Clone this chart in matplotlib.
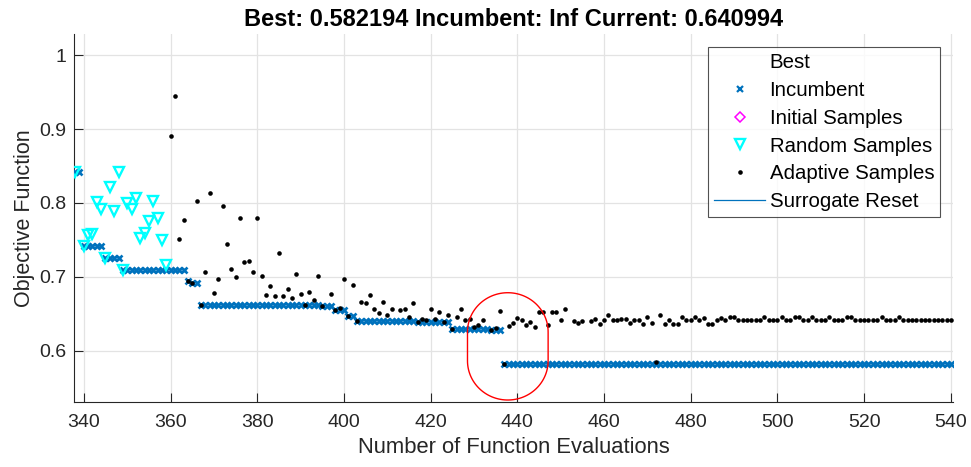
import numpy as np
import matplotlib
matplotlib.use("Agg")
import matplotlib.pyplot as plt
from matplotlib.lines import Line2D
from matplotlib.path import Path
from matplotlib.patches import PathPatch

plt.rcParams['font.family'] = ['Liberation Sans', 'DejaVu Sans']

# ---------------- data ----------------
random_x = [338, 340, 341, 342, 343, 344, 345, 346, 347, 348, 349,
            350, 351, 352, 353, 354, 355, 356, 357, 358, 359]
random_y = [0.842, 0.742, 0.757, 0.758, 0.801, 0.792, 0.726, 0.8215, 0.789, 0.842, 0.709,
            0.800, 0.792, 0.806, 0.753, 0.759, 0.776, 0.802, 0.779, 0.750, 0.716]

adaptive_start = 360
adaptive_y = [
    0.891, 0.945, 0.751, 0.777, 0.695, 0.691, 0.802, 0.662, 0.707, 0.813,   # 360-369
    0.678, 0.697, 0.796, 0.744, 0.710, 0.700, 0.780, 0.720, 0.722, 0.707,   # 370-379
    0.780, 0.701, 0.676, 0.687, 0.674, 0.732, 0.674, 0.684, 0.672, 0.704,   # 380-389
    0.677, 0.662, 0.680, 0.669, 0.701, 0.660, np.nan, 0.677, 0.655, 0.658,  # 390-399
    0.697, 0.647, 0.689, 0.640, 0.666, 0.664, 0.675, 0.657, 0.651, 0.666,   # 400-409
    0.648, 0.656, np.nan, 0.655, 0.657, 0.645, 0.665, 0.639, 0.643, 0.642,  # 410-419
    0.656, 0.643, 0.653, 0.6386, 0.648, 0.6294, 0.646, 0.656, 0.642, 0.643, # 420-429
    0.632, 0.635, 0.642, np.nan, 0.628, 0.631, 0.654, 0.5822, 0.633, 0.637, # 430-439
    0.644, 0.642, 0.635, 0.639, 0.632, 0.653, 0.653, 0.635, 0.652, 0.653,   # 440-449
    0.642, 0.656, np.nan, 0.640, 0.637, 0.640, np.nan, 0.640, 0.643, 0.636, # 450-459
    0.642, 0.648, 0.641, 0.641, 0.643, 0.643, 0.637, 0.641, 0.641, 0.636,   # 460-469
    0.646, 0.637, 0.5845, 0.648, 0.636, 0.641, 0.636, 0.636, 0.646, 0.641,  # 470-479
    0.641, 0.646, 0.642, 0.644, 0.636, 0.636, 0.641, 0.644, 0.641, 0.646,   # 480-489
    0.646, 0.641, 0.641, 0.641, 0.641, 0.641, 0.641, 0.645, 0.641, 0.641,   # 490-499
    0.641, 0.646, 0.641, 0.641, 0.646, 0.646, 0.641, 0.641, 0.645, 0.641,   # 500-509
    0.641, 0.641, 0.645, 0.641, 0.641, 0.641, 0.646, 0.646, 0.641, 0.641,   # 510-519
    0.641, 0.641, 0.641, 0.641, 0.645, 0.641, 0.641, 0.641, 0.645, 0.641,   # 520-529
    0.641, 0.641, 0.641, 0.641, 0.641, 0.641, 0.641, 0.641, 0.641, 0.641,   # 530-539
    0.641,                                                                  # 540
]
adaptive_x = list(range(adaptive_start, adaptive_start + len(adaptive_y)))

x_ticks = [340, 360, 380, 400, 420, 440, 460, 480, 500, 520, 540]
y_ticks = [0.6, 0.7, 0.8, 0.9, 1.0]
y_ticklabels = ["0.6", "0.7", "0.8", "0.9", "1"]

title_text = "Best: 0.582194 Incumbent: Inf Current: 0.640994"
legend_labels = ["Best", "Incumbent", "Initial Samples", "Random Samples",
                 "Adaptive Samples", "Surrogate Reset"]

# annotation (red rounded outline) parameters in data units
ann_cx, ann_cy = 437.8, 0.6059
ann_w, ann_h = 18.6, 0.1452
ann_ry = 0.053

# ---------------- derived: incumbent = running best of all samples ----------
all_x = np.arange(min(random_x), max(adaptive_x) + 1)
all_y = np.full(all_x.shape, np.nan)
for xv, yv in zip(random_x, random_y):
    all_y[xv - all_x[0]] = yv
for xv, yv in zip(adaptive_x, adaptive_y):
    all_y[xv - all_x[0]] = yv
incumbent = np.fmin.accumulate(all_y)

# ---------------- plot ----------------
fig = plt.figure(figsize=(9.71, 4.67), dpi=100)
ax = fig.add_axes([0.0765, 0.1398, 0.905, 0.7874])

blue = '#0072BD'
ax.plot(all_x, incumbent, linestyle='none', marker='x', color=blue,
        ms=4.6, mew=1.9, zorder=3)
ax.plot(random_x, random_y, linestyle='none', marker='v', mfc='none', mec='#00FFFF',
        ms=7.5, mew=1.7, zorder=4)
ax.plot(adaptive_x, adaptive_y, linestyle='none', marker='o', color='black',
        ms=3.3, mew=0, zorder=5)

# red rounded outline annotation
rx = ann_w / 2
top_c = ann_cy + ann_h / 2 - ann_ry
bot_c = ann_cy - ann_h / 2 + ann_ry
t1 = np.linspace(0, np.pi, 60)
t2 = np.linspace(np.pi, 2 * np.pi, 60)
px = np.concatenate([ann_cx + rx * np.cos(t1), ann_cx + rx * np.cos(t2), [ann_cx + rx]])
py = np.concatenate([top_c + ann_ry * np.sin(t1), bot_c + ann_ry * np.sin(t2), [top_c]])
ax.add_patch(PathPatch(Path(np.column_stack([px, py])), facecolor='none',
                       edgecolor='#FF0000', lw=1.0, zorder=6, clip_on=False))

ax.set_xlim(337.8, 540.5)
ax.set_ylim(0.531, 1.0286)
ax.set_xticks(x_ticks)
ax.set_yticks(y_ticks)
ax.set_yticklabels(y_ticklabels)

ax.grid(True, color='#E3E3E3', lw=0.9)
ax.set_axisbelow(True)
for s in ['top', 'right']:
    ax.spines[s].set_visible(False)
for s in ['left', 'bottom']:
    ax.spines[s].set_color('#262626')
    ax.spines[s].set_linewidth(0.8)
ax.tick_params(direction='in', length=6.5, width=0.8, color='#262626',
               labelsize=14, labelcolor='#262626')
ax.tick_params(axis='x', pad=9)
ax.tick_params(axis='y', pad=6)

ax.set_xlabel("Number of Function Evaluations", fontsize=15.8, color='#262626', labelpad=4)
ax.set_ylabel("Objective Function", fontsize=15.5, color='#262626', labelpad=3)
ax.set_title(title_text, fontsize=17, fontweight='bold', color='black', pad=6)

handles = [
    Line2D([], [], linestyle='none', marker='none'),
    Line2D([], [], linestyle='none', marker='x', color=blue, ms=4, mew=1.6),
    Line2D([], [], linestyle='none', marker='D', mfc='none', mec='#FF00FF', ms=5.5, mew=1.1),
    Line2D([], [], linestyle='none', marker='v', mfc='none', mec='#00FFFF', ms=7.5, mew=1.7),
    Line2D([], [], linestyle='none', marker='o', color='black', ms=3.3, mew=0),
    Line2D([], [], color=blue, lw=0.9),
]
leg = ax.legend(handles, legend_labels, loc='upper right', bbox_to_anchor=(0.9855, 0.9644),
                fontsize=14.7, frameon=True, fancybox=False, edgecolor='#262626',
                handlelength=2.5, handletextpad=0.22, labelspacing=0.43,
                borderpad=0.3, borderaxespad=0)
leg.get_frame().set_linewidth(0.8)

fig.savefig("out.png", dpi=100)
